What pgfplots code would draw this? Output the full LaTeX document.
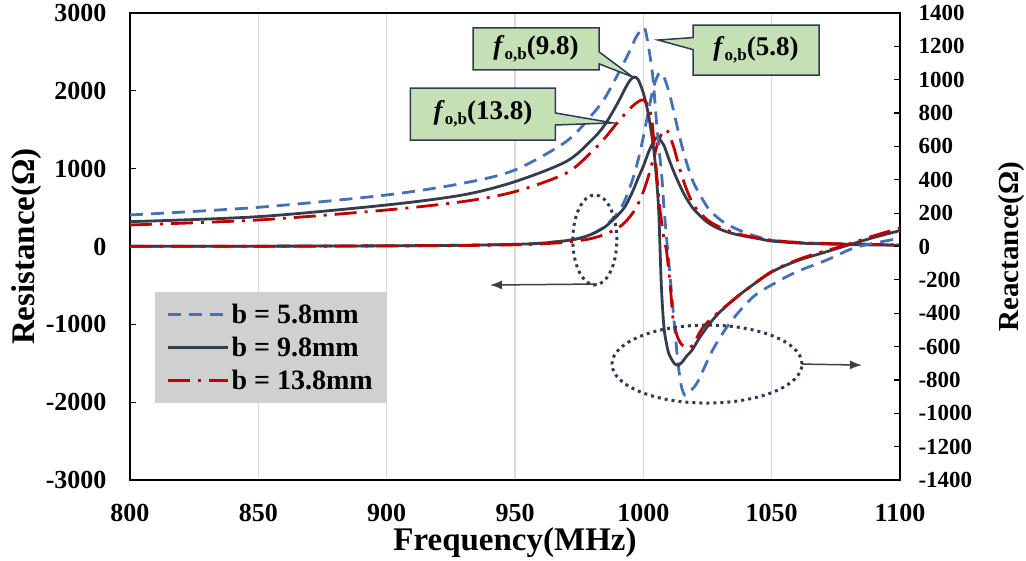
\documentclass[border=0pt]{standalone}
\usepackage{fontspec}
\setmainfont{Liberation Serif}
\usepackage{pgfplots}
\pgfplotsset{compat=1.18}
\usetikzlibrary{shapes.callouts,arrows.meta}

\definecolor{blueC}{HTML}{4470B8}
\definecolor{blackC}{HTML}{333D4D}
\definecolor{redC}{HTML}{C00000}
\definecolor{gridC}{HTML}{D9D9D9}
\definecolor{legendC}{HTML}{D0D0D0}
\definecolor{calloutC}{HTML}{C5E0B4}
\definecolor{navyC}{HTML}{2E3B55}
\definecolor{arrowC}{HTML}{404040}

\pgfplotsset{
  b58/.style={blueC, line width=2.8pt, dash pattern=on 13pt off 8pt, smooth, tension=0.5},
  b98/.style={blackC, line width=2.8pt, solid, smooth, tension=0.5},
  b138/.style={redC, line width=2.8pt, dash pattern=on 22pt off 8pt on 3pt off 8pt, smooth, tension=0.5},
  common/.style={
    scale only axis, width=770pt, height=467pt,
    xmin=800, xmax=1100,
    tick align=inside, major tick length=6pt,
    axis line style={black, line width=1.5pt},
    /pgf/number format/assume math mode=true,
    /pgf/number format/1000 sep={},
  },
}

\begin{document}
\begin{tikzpicture}
% resistance, left axis
\begin{axis}[common,
    ymin=-3000, ymax=3000,
    xtick={800,850,...,1100},
    ytick={-3000,-2000,...,3000},
    ytick pos=left,
    xtick style={draw=none},
    ytick style={black, line width=1.2pt},
    xmajorgrids, grid style={gridC, line width=1.5pt},
    ticklabel style={font=\fontsize{26}{26}\selectfont\bfseries},
    yticklabel style={xshift=-20pt},
    xticklabel style={yshift=-21pt},
    xlabel={Frequency(MHz)},
    xlabel style={at={(axis description cs:0.5,-0.135)}, anchor=center, font=\fontsize{33}{33}\selectfont\bfseries},
    ylabel={Resistance(Ω)},
    ylabel style={at={(axis description cs:-0.134,0.5)}, anchor=center, font=\fontsize{33}{33}\selectfont\bfseries},
  ]
  \coordinate (O) at (rel axis cs:0,0);

  \addplot[b58] coordinates {
    (800,2)(850,4)(900,9)(930,16)(950,28)(960,42)(970,75)(975,105)(980,160)(985,260)
    (990,430)(993,610)(996,880)(998,1115)(1000,1407)(1002,1742)(1004,2052)(1006,2222)
    (1007,2225)(1008,2181)(1010,1987)(1012,1712)(1014,1427)(1016,1172)(1018,960)(1020,790)
    (1025,504)(1030,342)(1035,245)(1040,175)(1045,120)(1050,80)(1060,52)(1070,40)
    (1080,32)(1090,25)(1100,20)
  };
  \addplot[b98] coordinates {
    (800,2)(850,4)(900,9)(930,16)(950,28)(960,42)(970,75)(975,105)(980,160)(985,250)
    (990,400)(993,520)(996,720)(998,880)(1000,1030)(1002,1210)(1004,1350)(1005,1395)
    (1006,1390)(1008,1300)(1010,1120)(1012,950)(1014,800)(1016,665)(1018,555)(1020,465)
    (1025,310)(1030,220)(1035,165)(1040,130)(1045,100)(1050,70)(1060,45)(1070,33)
    (1080,25)(1090,20)(1100,16)
  };
  \addplot[b138] coordinates {
    (800,2)(850,3)(900,7)(930,13)(950,22)(960,33)(970,55)(975,75)(980,105)(985,156)
    (990,236)(993,316)(996,436)(998,551)(1000,704)(1002,904)(1004,1140)(1006,1367)
    (1008,1494)(1009,1497)(1010,1449)(1012,1260)(1014,1018)(1016,810)(1018,640)(1020,510)
    (1025,340)(1030,245)(1035,180)(1040,138)(1045,108)(1050,80)(1060,52)(1070,40)
    (1080,32)(1090,26)(1100,22)
  };
\end{axis}

% reactance, right axis
\begin{axis}[common,
    ymin=-1400, ymax=1400,
    axis x line=none, axis y line*=right,
    ytick={-1400,-1200,...,1400},
    ytick style={black, line width=1.2pt},
    ticklabel style={font=\fontsize{23}{23}\selectfont\bfseries},
    yticklabel style={xshift=15pt},
    ylabel={Reactance(Ω)},
    ylabel style={at={(axis description cs:1.145,0.5)}, anchor=center, font=\fontsize{29}{29}\selectfont\bfseries},
    legend style={at={(axis description cs:0.032,0.403)}, anchor=north west,
      fill=legendC, draw=none, inner xsep=12pt, inner ysep=10pt, row sep=8pt,
      font=\fontsize{28}{30}\selectfont\bfseries},
    legend cell align=left,
    legend image code/.code={\draw[#1] (0pt,0pt) -- (60pt,0pt);},
  ]
  \addplot[b58] coordinates {
    (800,189)(850,235)(900,309)(930,380)(950,459)(970,630)(980,790)(985,890)(990,1030)
    (994,1150)(997,1250)(999,1295)(1000.5,1310)(1002,1200)(1003.7,1016)(1005.3,716)
    (1007.2,416)(1008,240)(1009,60)(1010,-110)(1011,-280)(1012,-450)(1013,-620)(1014,-760)
    (1015,-850)(1016.2,-891)(1017.5,-875)(1020.9,-819)(1027,-621)(1033.7,-459)(1042.7,-303)
    (1052,-213)(1060,-150)(1071.5,-81)(1080,-21)(1084,0)(1090,20)(1100,50)
  };
  \addlegendentry{b = 5.8mm}
  \addplot[b98] coordinates {
    (800,149)(850,179)(900,249)(930,310)(950,389)(970,510)(980,640)(985,730)(990,860)
    (993,950)(995,1000)(996.5,1016)(998,1000)(1000,920)(1002,790)(1004,590)(1005,430)
    (1006,210)(1007,-230)(1008,-480)(1009,-580)(1010,-645)(1012,-700)(1013.5,-711)
    (1015,-695)(1017,-655)(1019,-621)(1022,-545)(1026,-459)(1030,-390)(1035,-321)
    (1040,-260)(1050,-153)(1060,-85)(1070,-38)(1078,0)(1090,55)(1100,95)
  };
  \addlegendentry{b = 9.8mm}
  \addplot[b138] coordinates {
    (800,129)(850,159)(900,219)(930,270)(950,329)(970,440)(980,570)(985,650)(990,745)
    (995,830)(998,868)(1000,879)(1002,840)(1003.3,759)(1004.5,560)(1005.5,380)(1006.5,219)
    (1008.3,21)(1009,-21)(1010.4,-219)(1011.5,-423)(1012.5,-500)(1013.5,-550)(1015,-590)
    (1017,-605)(1018.2,-609)(1020,-570)(1023,-490)(1026,-440)(1030,-385)(1035,-321)
    (1040,-260)(1050,-150)(1060,-80)(1070,-30)(1077,0)(1090,65)(1100,110)
  };
  \addlegendentry{b = 13.8mm}

  \coordinate (cL) at (axis cs:981.1,39);
  \coordinate (aL1) at (axis cs:981.9,-225);
  \coordinate (aL2) at (axis cs:940.2,-231);
  \coordinate (cR) at (axis cs:1024.8,-705);
  \coordinate (aR1) at (axis cs:1061.8,-705);
  \coordinate (aR2) at (axis cs:1085.2,-711);
  \coordinate (c58) at (axis cs:1043.9,1178);
  \coordinate (p58) at (axis cs:1005.7,1238);
  \coordinate (c98) at (axis cs:958.2,1185);
  \coordinate (p98) at (axis cs:995.9,1016);
  \coordinate (c138) at (axis cs:937.5,794);
  \coordinate (p138) at (axis cs:988.2,741);
\end{axis}

% dotted ellipses and arrows
\draw[navyC, line width=3pt, dash pattern=on 3pt off 4pt] (cL) ellipse [x radius=22pt, y radius=45pt];
\draw[navyC, line width=3pt, dash pattern=on 3pt off 4pt] (cR) ellipse [x radius=95pt, y radius=39pt];
\draw[arrowC, line width=1.5pt, -{Latex[length=12pt,width=9pt]}] (aL1) -- (aL2);
\draw[arrowC, line width=1.5pt, -{Latex[length=12pt,width=9pt]}] (aR1) -- (aR2);

% callouts
\tikzset{fcall/.style={rectangle callout, callout pointer width=12pt, fill=calloutC,
  draw=navyC, line width=1.5pt, inner sep=0pt, font=\fontsize{27}{30}\selectfont\bfseries}}
\node[fcall, callout absolute pointer={(p58)}, minimum width=126pt, minimum height=50pt] at (c58)
  {\textit{f}\raisebox{-5pt}{\fontsize{17}{17}\selectfont o,b}(5.8)};
\node[fcall, callout absolute pointer={(p98)}, minimum width=126pt, minimum height=42pt] at (c98)
  {\textit{f}\raisebox{-5pt}{\fontsize{17}{17}\selectfont o,b}(9.8)};
\node[fcall, callout absolute pointer={(p138)}, minimum width=145pt, minimum height=52pt] at (c138)
  {\textit{f}\raisebox{-5pt}{\fontsize{17}{17}\selectfont o,b}(13.8)};

\pgfresetboundingbox
\path[use as bounding box] (O) ++(-130pt,-80pt) rectangle ++(1026pt,560pt);
\end{tikzpicture}
\end{document}
